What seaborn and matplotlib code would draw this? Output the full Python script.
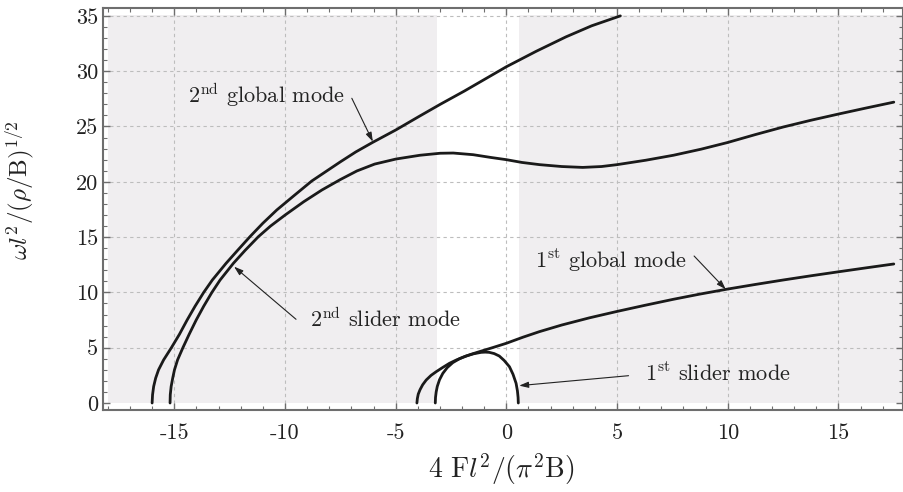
import numpy as np
import pandas as pd
import matplotlib
matplotlib.use("Agg")
import matplotlib.pyplot as plt
import seaborn as sns

# ---------------- data ----------------
g2_x = [-16.00, -15.98, -15.93, -15.84, -15.71, -15.48, -15.13, -14.77, -14.42,
        -14.06, -13.67, -13.28, -12.66, -12.14, -11.58, -11.00, -10.37, -9.62,
        -8.79, -7.50, -6.80, -6.05, -4.98, -3.95, -2.99, -1.90, -0.95, 0.00,
        1.35, 2.69, 3.85, 5.15]
g2_y = [0.00, 0.75, 1.50, 2.25, 3.00, 3.90, 5.00, 6.20, 7.50,
        8.75, 10.00, 11.12, 12.63, 13.80, 15.04, 16.25, 17.45, 18.70,
        20.07, 21.80, 22.70, 23.55, 24.70, 25.90, 27.00, 28.20, 29.30, 30.40,
        31.80, 33.10, 34.10, 35.00]

s2_x = [-15.19, -15.18, -15.14, -15.07, -14.99, -14.85, -14.61, -14.33, -14.01,
        -13.67, -13.30, -12.93, -12.33, -11.80, -11.20, -10.65, -9.99, -9.15,
        -8.33, -7.50, -6.75, -5.95, -4.98, -3.90, -2.99, -2.40, -1.50, -0.70,
        0.00, 0.70, 1.50, 2.50, 3.45, 4.30, 5.00, 6.30, 7.55, 8.80, 9.99,
        11.25, 12.50, 13.75, 14.99, 16.25, 17.50]
s2_y = [0.00, 0.75, 1.50, 2.25, 3.00, 3.90, 5.00, 6.20, 7.50,
        8.75, 10.00, 11.12, 12.63, 13.80, 15.04, 16.00, 17.00, 18.20,
        19.26, 20.20, 20.98, 21.60, 22.06, 22.40, 22.58, 22.60, 22.45, 22.20,
        22.00, 21.75, 21.55, 21.38, 21.30, 21.38, 21.55, 21.95, 22.40, 22.95, 23.55,
        24.27, 24.95, 25.56, 26.12, 26.67, 27.20]

g1_x = [-4.04, -4.02, -3.98, -3.90, -3.78, -3.62, -3.40, -3.17, -2.87, -2.57,
        -2.27, -1.97, -1.60, -1.22, -0.60, 0.00, 0.75, 1.49, 2.50, 3.75,
        5.00, 6.25, 7.55, 8.75, 9.99, 11.25, 12.50, 13.75, 14.99, 16.25, 17.50]
g1_y = [0.00, 0.40, 0.80, 1.20, 1.65, 2.08, 2.50, 2.83, 3.22, 3.59,
        3.88, 4.13, 4.40, 4.64, 5.02, 5.40, 5.95, 6.45, 7.05, 7.70,
        8.28, 8.83, 9.38, 9.85, 10.30, 10.72, 11.12, 11.50, 11.86, 12.22, 12.57]

s1_x = [-3.21, -3.20, -3.17, -3.12, -3.02, -2.87, -2.67, -2.42, -2.12, -1.82,
        -1.48, -1.14, -0.95, -0.77, -0.55, -0.32, -0.10, 0.14, 0.30, 0.44,
        0.50, 0.53, 0.54]
s1_y = [0.00, 0.50, 1.00, 1.50, 2.10, 2.68, 3.20, 3.65, 4.00, 4.25,
        4.45, 4.58, 4.60, 4.58, 4.47, 4.25, 3.85, 3.28, 2.60, 1.78,
        1.10, 0.50, 0.00]

shade_regions = [(-18.0, -3.15), (0.55, 17.95)]
shade_top = 35.1

x_ticks = [-15, -10, -5, 0, 5, 10, 15]
x_tick_labels = ["-15", "-10", "-5", "0", "5", "10", "15"]
y_ticks = [0, 5, 10, 15, 20, 25, 30, 35]
y_tick_labels = ["0", "5", "10", "15", "20", "25", "30", "35"]

labels = [r"2$^{\rm nd}$ global mode", r"2$^{\rm nd}$ slider mode",
          r"1$^{\rm st}$ global mode", r"1$^{\rm st}$ slider mode"]
label_pos = [(-14.36, 27.15), (-8.86, 6.9), (1.30, 12.2), (6.24, 2.02)]
arrow_tail = [(-6.98, 27.55), (-9.5, 7.57), (8.48, 13.29), (5.52, 2.47)]
arrow_tip = [(-6.03, 23.63), (-12.3, 12.33), (9.91, 10.28), (0.58, 1.57)]

# ---------------- style ----------------
sns.set_style("ticks")
plt.rcParams["font.family"] = ["serif"]
plt.rcParams["font.serif"] = ["cmr10", "DejaVu Serif"]
plt.rcParams["mathtext.fontset"] = "cm"
plt.rcParams["axes.unicode_minus"] = False

fig = plt.figure(figsize=(9.04, 4.92), dpi=100)
ax = fig.add_axes([0.1139, 0.1667, 0.8851, 0.8170])

for x0, x1 in shade_regions:
    ax.fill_between([x0, x1], 0, shade_top, color="#f0eef0", lw=0, zorder=0.2)

curves = []
for name, xs, ys in [("g2", g2_x, g2_y), ("s2", s2_x, s2_y),
                     ("g1", g1_x, g1_y), ("s1", s1_x, s1_y)]:
    curves.append(pd.DataFrame({"x": xs, "y": ys, "curve": name}))
df = pd.concat(curves, ignore_index=True)

sns.lineplot(data=df, x="x", y="y", units="curve", estimator=None, sort=False,
             color="#1a1a1a", lw=2.0, ax=ax, zorder=3)
for ln in ax.get_lines():
    ln.set_solid_joinstyle("round")

ax.set_xlim(-18.22, 17.92)
ax.set_ylim(-0.63, 35.71)

ax.set_xticks(x_ticks)
ax.set_xticklabels(x_tick_labels)
ax.set_yticks(y_ticks)
ax.set_yticklabels(y_tick_labels)
ax.set_xticks(np.arange(-18, 18, 1), minor=True)
ax.set_yticks(np.arange(0, 36, 1), minor=True)

ax.set_axisbelow(True)
ax.grid(True, which="major", color="#bdbdbd", linestyle=(0, (3, 3)), lw=0.8)
for gl, t in zip(ax.get_ygridlines(), y_ticks):
    if t == 0:
        gl.set_visible(False)

ax.tick_params(which="both", direction="in", top=True, right=True,
               color="#6e6e6e", labelsize=16, labelcolor="#222222")
ax.tick_params(which="major", length=5, width=1)
ax.tick_params(which="minor", length=3, width=0.8)
ax.tick_params(axis="x", pad=10)
for sp in ax.spines.values():
    sp.set_color("#6e6e6e")
    sp.set_linewidth(1.5)

ax.set_xlabel(r"$4\ \mathrm{F}l^2/(\pi^2\mathrm{B})$", fontsize=20, color="#222222")
ax.set_ylabel(r"$\omega l^2/(\rho/\mathrm{B})^{1/2}$", fontsize=18, color="#222222")
ax.xaxis.label.set_va("center")
ax.yaxis.label.set_va("center")
ax.xaxis.set_label_coords(0.4975, -0.147)
ax.yaxis.set_label_coords(-0.104, 0.547)

for txt, pos, tail, tip in zip(labels, label_pos, arrow_tail, arrow_tip):
    ax.text(pos[0], pos[1], txt, fontsize=16, color="#222222",
            ha="left", va="baseline", zorder=4)
    ax.annotate("", xy=tip, xytext=tail,
                arrowprops=dict(arrowstyle="-|>,head_length=0.55,head_width=0.18",
                                color="#222222", lw=0.8, shrinkA=0, shrinkB=0),
                zorder=4)

fig.savefig("out.png", dpi=100)
